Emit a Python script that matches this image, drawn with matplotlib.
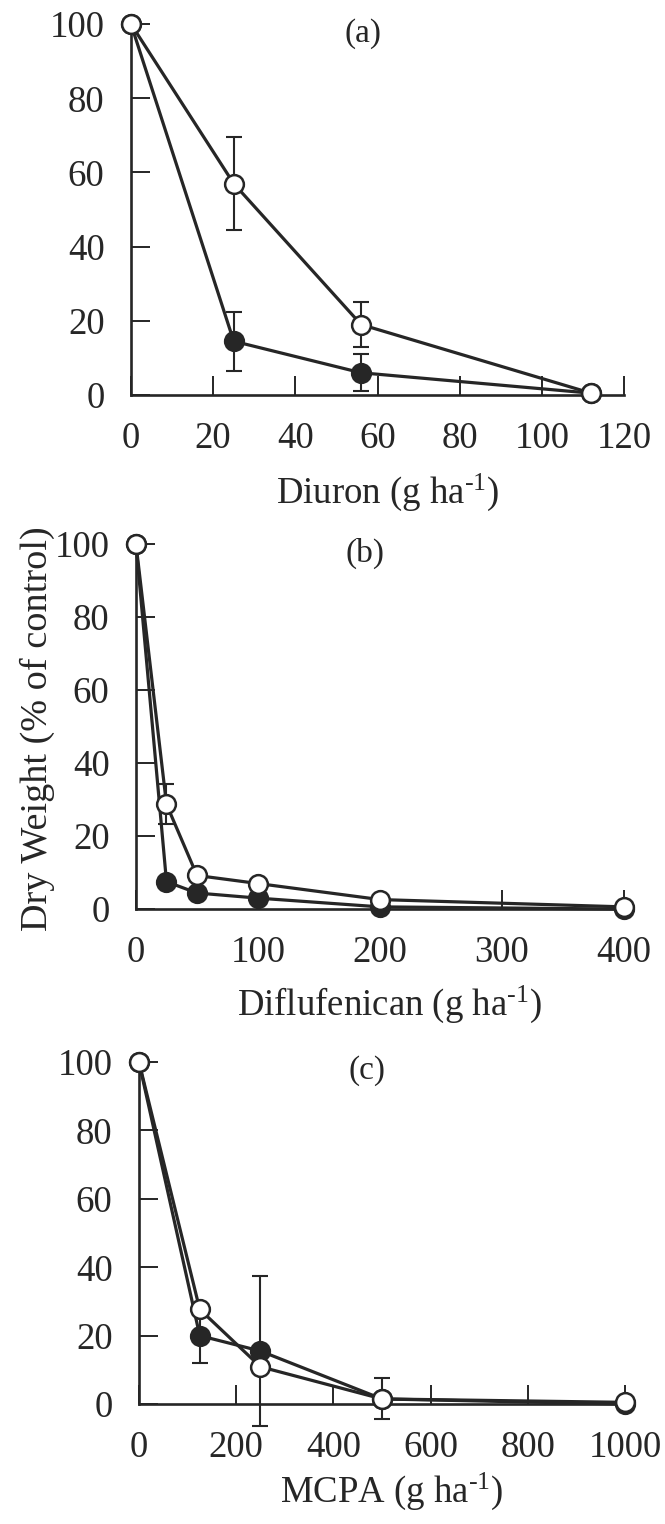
import matplotlib
matplotlib.use("Agg")
import matplotlib.pyplot as plt

plt.rcParams["font.family"] = ["Liberation Serif", "DejaVu Serif"]
plt.rcParams["mathtext.fontset"] = "custom"
plt.rcParams["mathtext.rm"] = "Liberation Serif"
plt.rcParams["mathtext.it"] = "Liberation Serif:italic"

INK = "#262626"

# (a) Diuron
diuron_x = [0, 25, 56, 112]
diuron_open = [100, 57, 19, 0.5]
diuron_open_err = [0, 12.5, 6, 0]
diuron_closed = [100, 14.5, 6, 0.5]
diuron_closed_err = [0, 8, 5, 0]
diuron_ticks = [0, 20, 40, 60, 80, 100, 120]

# (b) Diflufenican
diflu_x = [0, 25, 50, 100, 200, 400]
diflu_open = [100, 28.7, 9.2, 7, 2.6, 0.6]
diflu_open_err = [0, 5.5, 0, 0, 0, 0]
diflu_closed = [100, 7.5, 4.4, 3, 0.6, 0]
diflu_closed_err = [0, 0, 0, 0, 0, 0]
diflu_ticks = [0, 100, 200, 300, 400]

# (c) MCPA
mcpa_x = [0, 125, 250, 500, 1000]
mcpa_open = [100, 27.7, 10.9, 1.5, 0.5]
mcpa_open_err = [0, 0, 0, 6, 0]
mcpa_closed = [100, 20, 15.5, 1.5, 0]
mcpa_closed_err = [0, 8, 22, 0, 0]
mcpa_ticks = [0, 200, 400, 600, 800, 1000]

y_ticks = [0, 20, 40, 60, 80, 100]

panels = [
    # rect, x, open, open err, closed, closed err, ticks, xmax, letter, herbicide
    ([0.197, 0.7408, 0.7414, 0.2434], diuron_x, diuron_open, diuron_open_err,
     diuron_closed, diuron_closed_err, diuron_ticks, 120, "(a)", "Diuron"),
    ([0.2045, 0.4035, 0.7338, 0.2395], diflu_x, diflu_open, diflu_open_err,
     diflu_closed, diflu_closed_err, diflu_ticks, 400, "(b)", "Diflufenican"),
    ([0.209, 0.0787, 0.7308, 0.2244], mcpa_x, mcpa_open, mcpa_open_err,
     mcpa_closed, mcpa_closed_err, mcpa_ticks, 1000, "(c)", "MCPA"),
]

fig = plt.figure(figsize=(6.65, 15.24), dpi=100)

for rect, x, yo, eo, yc, ec, xt, xmax, letter, name in panels:
    ax = fig.add_axes(rect)
    ax.set_xlim(0, xmax)
    ax.set_ylim(0, 100)

    # closed symbols first, open ones on top
    ax.errorbar(x, yc, yerr=ec, fmt="none", ecolor=INK, elinewidth=1.5,
                capsize=6, capthick=1.5, clip_on=False, zorder=3)
    ax.plot(x, yc, "-o", color=INK, lw=2.3, ms=13.5, mfc=INK, mec=INK, mew=1.8,
            clip_on=False, zorder=4)
    ax.errorbar(x, yo, yerr=eo, fmt="none", ecolor=INK, elinewidth=1.5,
                capsize=6, capthick=1.5, clip_on=False, zorder=5)
    ax.plot(x, yo, "-o", color=INK, lw=2.3, ms=13.5, mfc="white", mec=INK, mew=1.8,
            clip_on=False, zorder=6)

    for side in ["top", "right"]:
        ax.spines[side].set_visible(False)
    for side in ["left", "bottom"]:
        ax.spines[side].set_linewidth(1.9)
        ax.spines[side].set_color(INK)

    ax.set_xticks(xt)
    ax.set_yticks(y_ticks)
    ax.tick_params(direction="in", length=13.5, width=1.4, color=INK,
                   labelsize=26.5, pad=19, labelcolor=INK)

    ax.text(0.47, 0.975, letter, transform=ax.transAxes, ha="center",
            va="center", fontsize=24, color=INK)
    ax.text(0.52, -0.29 if xmax != 1000 else -0.285,
            name + r" (g ha$^{\mathrm{\text{-}1}}$)",
            transform=ax.transAxes, ha="center", va="baseline",
            fontsize=26.5, color=INK)

fig.text(0.056, 0.522, "Dry Weight (% of control)", rotation=90,
         ha="center", va="center", fontsize=27.5, color=INK)

fig.savefig("out.png", dpi=100)
